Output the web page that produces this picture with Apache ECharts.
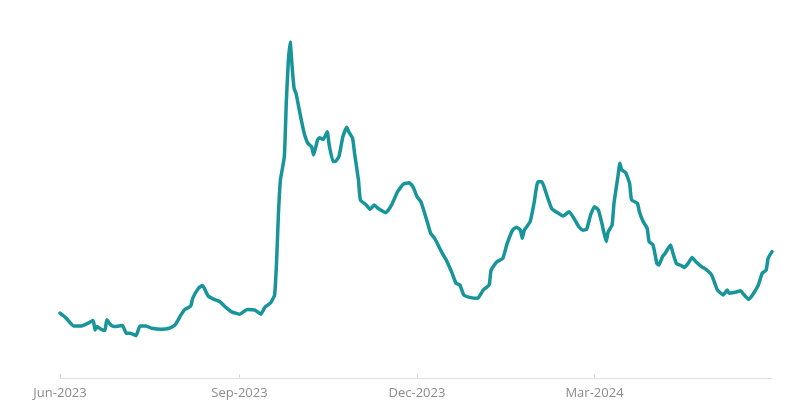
<!DOCTYPE html>
<html>
<head>
<meta charset="utf-8">
<script src="https://cdn.jsdelivr.net/npm/echarts@6/dist/echarts.min.js"></script>
<style>
  html, body { margin: 0; padding: 0; background: #ffffff; }
  #chart { width: 800px; height: 409px; }
</style>
</head>
<body>
<div id="chart"></div>
<script>
// Days since 1 Jun 2023 (day 0) and the index value
var days = [0,3,7,11,15,17,18,19,21,23,24,26,28,32,34,36,39,41,44,47,52,56,59,62,64,67,68,71,73,74,76,79,82,85,88,
  92,96,100,103,105,108,110,111,112,113,115,116,117,118,119,120,121,123,125,127,129,130,132,133,135,137,138,140,141,143,145,147,148,
  150,151,153,154,157,159,161,163,167,170,173,176,179,181,183,185,188,190,192,196,198,201,203,205,
  207,210,214,217,220,221,224,227,229,232,234,236,237,238,241,243,245,247,249,252,255,258,261,264,266,
  268,270,272,274,276,278,280,281,283,284,286,287,288,290,292,293,296,297,299,301,302,304,306,307,309,310,313,314,316,319,320,
  322,324,326,329,331,334,336,337,340,342,343,346,349,350,353,355,358,360,362,363,365];
var values = [19.3,17.9,15.5,15.5,16.5,17.1,14.3,15.3,14.5,14.1,17.3,15.8,15.3,15.6,13.3,13.3,12.6,15.5,15.5,14.8,14.5,14.8,15.8,18.8,20.4,21.4,23.7,26.7,27.5,26.7,24.4,23.4,22.7,21.0,19.7,
  19.0,20.4,20.2,19.0,21.0,22.4,24.7,34.2,49.1,58.9,65.9,81.8,93.8,100,92.6,86.2,84.7,78.8,73.3,69.9,68.8,66.4,70.8,71.5,71.0,73.3,69.3,64.4,64.4,65.9,71.8,74.6,73.3,
  71.3,66.9,58.9,53.0,51.5,50.2,51.5,50.5,49.2,51.5,55.4,57.7,58.1,56.9,54.0,52.5,47.0,43.1,41.6,37.1,35.1,31.2,28.2,27.7,
  24.7,24.0,23.7,26.2,27.7,32.1,34.6,35.6,39.6,44.0,44.9,44.0,41.6,44.0,46.5,52.0,58.4,58.4,55.4,50.5,49.2,48.2,49.5,47.0,45.0,
  44.0,44.3,48.5,51.0,50.0,45.5,40.6,43.5,45.5,52.0,59.9,63.9,61.9,61.1,57.9,53.0,52.0,49.5,46.5,44.6,40.6,39.6,34.1,33.6,36.3,36.9,39.6,37.6,34.1,33.3,32.9,
  34.1,35.9,34.6,33.1,32.4,30.7,27.7,26.2,24.7,26.2,25.2,25.5,26.0,25.2,23.4,24.7,27.7,31.2,32.1,35.6,37.6];
var tickDays = [0, 92, 183, 274];
var tickLabels = ['Jun-2023', 'Sep-2023', 'Dec-2023', 'Mar-2024'];

var seriesData = days.map(function (d, i) { return [d, values[i]]; });

var chart = echarts.init(document.getElementById('chart'), null, { renderer: 'canvas' });
chart.setOption({
  animation: false,
  backgroundColor: '#ffffff',
  grid: { left: 60, right: 28, top: 42, bottom: 31, containLabel: false },
  xAxis: {
    type: 'value',
    min: 0,
    max: 365,
    splitLine: { show: false },
    axisLine: { show: true, lineStyle: { color: '#e2e2e2', width: 1 } },
    axisTick: {
      show: true,
      inside: true,
      length: 4,
      customValues: tickDays,
      lineStyle: { color: '#dcdcdc' }
    },
    axisLabel: {
      customValues: tickDays,
      margin: 9,
      color: '#8c8c8c',
      fontFamily: 'Open Sans',
      fontSize: 13,
      formatter: function (v) {
        var i = tickDays.indexOf(v);
        return i >= 0 ? tickLabels[i] : '';
      }
    }
  },
  yAxis: {
    type: 'value',
    min: 0,
    max: 100,
    show: false,
    splitLine: { show: false }
  },
  series: [{
    type: 'line',
    data: seriesData,
    showSymbol: false,
    symbol: 'none',
    smooth: 0.15,
    lineStyle: { color: '#17959b', width: 3.5, join: 'round', cap: 'round' }
  }]
});
</script>
</body>
</html>
